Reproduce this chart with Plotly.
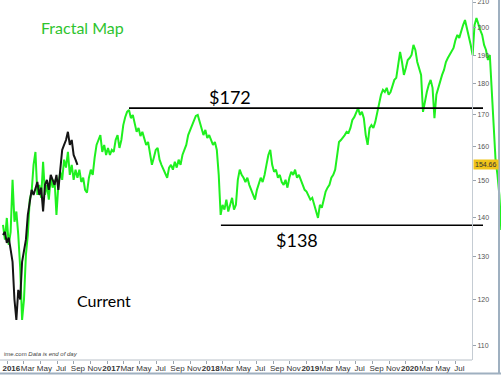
import numpy as np
import pandas as pd
import plotly.graph_objects as go

# ---------------- data ----------------
fractal_map = [
    138.1, 134.3, 139.9, 133.0, 136.3, 150.3, 138.9, 141.6, 135.5, 127.4,
    115.5, 120.0, 130.5, 135.5, 144.8, 147.0, 154.6, 158.4, 146.1, 148.9,
    145.3, 155.5, 146.1, 148.9, 144.8, 150.9, 148.1, 150.3, 140.7, 148.9,
    152.6, 150.3, 156.1, 153.8, 158.4, 151.7, 154.6, 150.3, 153.2, 150.9,
    153.2, 149.7, 150.9, 147.5, 146.7, 150.9, 153.2, 151.7, 156.7, 160.5,
    162.0, 163.5, 158.4, 160.5, 157.5, 159.6, 157.5, 159.0, 158.4, 162.0,
    163.5, 159.6, 162.0, 166.6, 169.1, 170.8, 171.4, 168.8, 169.8, 166.6,
    164.5, 165.7, 163.2, 164.5, 162.0, 160.5, 161.4, 157.5, 154.6, 156.7,
    159.0, 159.6, 156.1, 154.6, 153.2, 151.7, 150.9, 153.8, 154.6, 153.2,
    155.5, 153.8, 156.1, 154.6, 157.5, 159.0, 160.5, 163.5, 165.1, 166.6,
    168.2, 169.5, 169.8, 167.6, 165.7, 163.5, 165.1, 162.6, 163.5, 162.0,
    160.5, 161.4, 159.0, 151.7, 140.7, 143.4, 142.1, 144.8, 141.6, 143.4,
    145.3, 142.1, 143.4, 150.3, 153.2, 151.7, 150.9, 149.7, 150.9, 148.9,
    147.5, 146.1, 144.8, 147.5, 148.9, 150.9, 149.7, 151.7, 154.6, 157.5,
    159.0, 154.6, 152.6, 153.2, 150.9, 151.7, 149.7, 148.9, 150.3, 148.1,
    150.9, 152.6, 151.7, 153.2, 150.9, 151.7, 150.3, 148.9, 147.5, 147.0,
    146.1, 144.8, 145.3, 143.4, 142.1, 139.9, 143.4, 142.6, 144.8, 147.0,
    148.1, 148.9, 150.9, 151.7, 153.2, 156.7, 161.4, 162.0, 162.6, 163.5,
    164.5, 164.2, 165.7, 168.2, 169.1, 170.8, 172.0, 169.8, 170.8, 168.8,
    163.5, 160.5, 165.7, 166.6, 165.7, 167.6, 170.8, 173.1, 176.4, 178.0,
    177.3, 178.7, 176.4, 177.3, 179.7, 181.4, 182.1, 186.6, 191.2, 187.6,
    183.1, 185.5, 188.3, 189.0, 190.1, 193.7, 191.9, 187.6, 185.5, 183.1,
    170.8, 174.7, 177.3, 179.7, 181.4, 178.7, 168.8, 176.4, 178.7, 180.7,
    183.1, 184.8, 187.6, 189.0, 190.1, 191.2, 192.6, 195.5, 197.4, 196.3,
    199.2, 201.1, 203.0, 199.9, 197.4, 193.7, 190.1, 201.1, 203.8, 201.1,
    199.2, 197.4, 193.7, 191.9, 188.3, 190.1, 176.4, 165.1, 156.1, 151.7,
    146.1, 136.8,
]

current = [
    135.5, 136.3, 133.5, 134.8, 131.8, 128.8, 120.0, 115.5, 122.2, 120.0,
    128.8, 131.8, 134.3, 140.7, 144.8, 147.5, 146.1, 148.1, 149.7, 146.1,
    148.1, 141.6, 148.9, 150.3, 147.5, 151.7, 150.3, 148.9, 151.7, 147.5,
    153.2, 159.0, 160.5, 162.0, 164.5, 160.5, 162.0, 157.5, 156.1, 154.6,
]

week_start = "2015-12-16"
dates = pd.date_range(week_start, periods=len(fractal_map), freq="7D")
dates_current = dates[: len(current)]

level_high = 172
level_low = 138
high_span = ["2017-03-22", "2020-10-10"]
low_span = ["2018-02-22", "2020-10-10"]
last_price = 154.66

y_ticks = [110, 120, 130, 140, 150, 160, 170, 180, 190, 200, 210]

month_ticks = pd.date_range("2016-01-01", "2020-07-01", freq="2MS")
month_names = {1: "Jan", 3: "Mar", 5: "May", 7: "Jul", 9: "Sep", 11: "Nov"}
tick_text = [
    f"<b>{d.year}</b>" if d.month == 1 else month_names[d.month] for d in month_ticks
]

# ---------------- figure ----------------
GREEN = "#1ff01f"
NARROW = "Liberation Sans Narrow, Arial Narrow, Liberation Sans, sans-serif"
fig = go.Figure()

fig.add_trace(go.Scatter(x=dates, y=fractal_map, mode="lines",
                         line=dict(color=GREEN, width=2), hoverinfo="skip"))
fig.add_trace(go.Scatter(x=dates_current, y=current, mode="lines",
                         line=dict(color="#151515", width=2), hoverinfo="skip"))
fig.add_trace(go.Scatter(x=high_span, y=[level_high, level_high], mode="lines",
                         line=dict(color="black", width=1.6), hoverinfo="skip"))
fig.add_trace(go.Scatter(x=low_span, y=[level_low, level_low], mode="lines",
                         line=dict(color="black", width=1.6), hoverinfo="skip"))

AXIS_POS = 472 / 501

fig.update_layout(
    width=501, height=387,
    margin=dict(l=0, r=0, t=0, b=27, autoexpand=False),
    paper_bgcolor="white", plot_bgcolor="white",
    showlegend=False,
    xaxis=dict(
        range=["2015-12-05", "2020-12-15"],
        showgrid=False, zeroline=False, showline=False,
        tickvals=list(month_ticks), ticktext=tick_text,
        ticks="outside", ticklen=3, tickcolor="#9aa4ae",
        ticklabeloverflow="allow",
        ticklabelshift=4, ticklabelstandoff=-3,
        tickfont=dict(family=NARROW, size=8, color="#333333"),
        tickangle=0,
    ),
    yaxis=dict(
        type="log",
        range=[np.log10(107.1), np.log10(210.8)],
        anchor="free", position=AXIS_POS, side="right",
        tickvals=y_ticks, ticktext=[str(v) for v in y_ticks],
        ticks="outside", ticklen=3, tickcolor="#9aa4ae",
        ticklabeloverflow="allow",
        showline=True, linecolor="#c5ccd3", linewidth=1,
        showgrid=False, zeroline=False,
        tickfont=dict(family=NARROW, size=7, color="#555555"),
    ),
)

# bottom axis line and outer frame
fig.add_shape(type="line", xref="paper", yref="paper", x0=0, x1=AXIS_POS, y0=0, y1=0,
              line=dict(color="#b8c0c8", width=1))
fig.add_shape(type="line", xref="paper", yref="paper", x0=0, x1=1,
              y0=-13.5 / 360, y1=-13.5 / 360, line=dict(color="#9fb0c0", width=2))
fig.add_shape(type="line", xref="paper", yref="paper", x0=499 / 501, x1=499 / 501,
              y0=-13.5 / 360, y1=1, line=dict(color="#9fb0c0", width=2))

TXT = "Lato, Open Sans, sans-serif"


def label(x_px, y_px, text, size, color, xanchor="center"):
    fig.add_annotation(x=x_px / 501, y=1 - y_px / 360, xref="paper", yref="paper",
                       xanchor=xanchor, yanchor="middle", text=text, showarrow=False,
                       font=dict(family=TXT, size=size, color=color))


label(82, 28, "Fractal Map", 16, "#2ec42e")
label(230, 97, "$172", 18, "black")
label(297, 240, "$138", 18, "black")
label(104, 300, "Current", 16, "black")

fig.add_annotation(x=2 / 501, y=1 - 354 / 360, xref="paper", yref="paper",
                   xanchor="left", yanchor="middle",
                   text="ime.com <i>Data is end of day</i>", showarrow=False,
                   font=dict(family=NARROW, size=6, color="#444444"))
fig.add_annotation(x=AXIS_POS + 1 / 501, y=np.log10(last_price), xref="paper", yref="y",
                   xanchor="left", yanchor="middle", text="154.66", showarrow=False,
                   bgcolor="#f0c419", borderpad=1,
                   font=dict(family=NARROW, size=7, color="#333333"))

fig.write_html("out.html",
               config={"displayModeBar": False},
               post_script="document.body.style.margin='0';document.body.style.padding='0';")
